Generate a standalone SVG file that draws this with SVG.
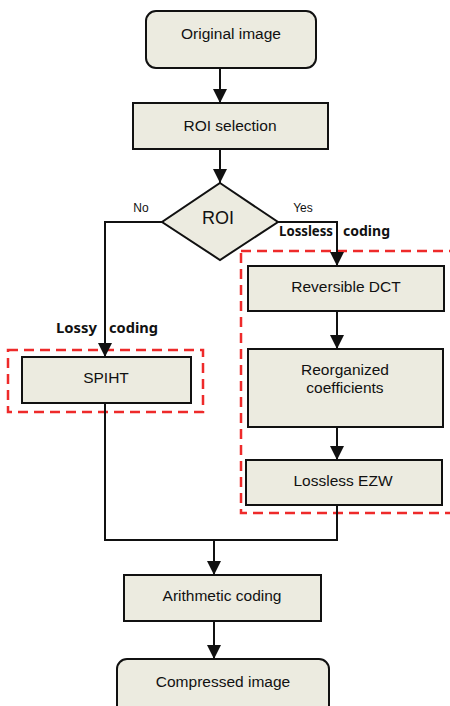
<svg xmlns="http://www.w3.org/2000/svg" width="450" height="706" viewBox="0 0 450 706">
<style>
.box{fill:#ECEBE0;stroke:#111;stroke-width:2}
.t{font-family:"Liberation Sans",Arial,sans-serif;font-size:15.5px;fill:#111;text-anchor:middle}
.s{font-family:"Liberation Sans",Arial,sans-serif;font-size:12px;fill:#111;text-anchor:middle}
.b{font-family:"Noto Sans","Liberation Sans",sans-serif;font-size:14px;font-weight:bold;fill:#111}
.c{fill:none;stroke:#111;stroke-width:2}
.r{fill:none;stroke:#EE2A2A;stroke-width:2.5;stroke-dasharray:10 6}
</style>
<defs>
<marker id="ah" viewBox="0 0 14 14" refX="14" refY="7" markerWidth="14" markerHeight="14" markerUnits="userSpaceOnUse" orient="auto">
<path d="M0,0 L14,7 L0,14 z" fill="#111"/>
</marker>
</defs>
<rect width="450" height="706" fill="#fff"/>
<g id="regions">
<rect class="r" x="241" y="251" width="240" height="262"/>
<rect class="r" x="8" y="350" width="195" height="62"/>
</g>
<g id="connectors">
<line class="c" x1="220" y1="68" x2="220" y2="103" marker-end="url(#ah)"/>
<line class="c" x1="220" y1="149" x2="220" y2="183" marker-end="url(#ah)"/>
<polyline class="c" points="162,222 105,222 105,357" marker-end="url(#ah)"/>
<polyline class="c" points="278,222 337,222 337,266" marker-end="url(#ah)"/>
<line class="c" x1="337" y1="311" x2="337" y2="349" marker-end="url(#ah)"/>
<line class="c" x1="337" y1="427" x2="337" y2="460" marker-end="url(#ah)"/>
<polyline class="c" points="337,505 337,540 105,540 105,403"/>
<line class="c" x1="214" y1="540" x2="214" y2="575" marker-end="url(#ah)"/>
<line class="c" x1="214" y1="621" x2="214" y2="659" marker-end="url(#ah)"/>
<text class="s" x="141" y="212">No</text>
<text class="s" x="303" y="212">Yes</text>
<text class="b" x="279" y="236" textLength="54" lengthAdjust="spacingAndGlyphs">Lossless</text>
<text class="b" x="343" y="236" textLength="47" lengthAdjust="spacingAndGlyphs">coding</text>
<text class="b" x="56" y="333" textLength="41" lengthAdjust="spacingAndGlyphs">Lossy</text>
<text class="b" x="109" y="333" textLength="49" lengthAdjust="spacingAndGlyphs">coding</text>
</g>
<g id="original">
<rect class="box" x="146" y="11" width="170" height="57" rx="10"/>
<text class="t" x="231" y="39">Original image</text>
</g>
<g id="roisel">
<rect class="box" x="133" y="103" width="195" height="46"/>
<text class="t" x="230" y="131">ROI selection</text>
</g>
<g id="roi">
<polygon class="box" points="220,183 278,222 220,260 162,222"/>
<text class="t" x="218" y="224" style="font-size:18px">ROI</text>
</g>
<g id="spiht">
<rect class="box" x="22" y="357" width="169" height="46"/>
<text class="t" x="106" y="383">SPIHT</text>
</g>
<g id="dct">
<rect class="box" x="248" y="266" width="196" height="45"/>
<text class="t" x="346" y="292">Reversible DCT</text>
</g>
<g id="reorg">
<rect class="box" x="248" y="349" width="195" height="78"/>
<text class="t" x="345" y="375">Reorganized</text>
<text class="t" x="345" y="393">coefficients</text>
</g>
<g id="ezw">
<rect class="box" x="246" y="460" width="196" height="45"/>
<text class="t" x="343" y="486">Lossless EZW</text>
</g>
<g id="arith">
<rect class="box" x="124" y="575" width="197" height="46"/>
<text class="t" x="222" y="601">Arithmetic coding</text>
</g>
<g id="compressed">
<rect class="box" x="117" y="659" width="212" height="60" rx="10"/>
<text class="t" x="223" y="687">Compressed image</text>
</g>
</svg>
